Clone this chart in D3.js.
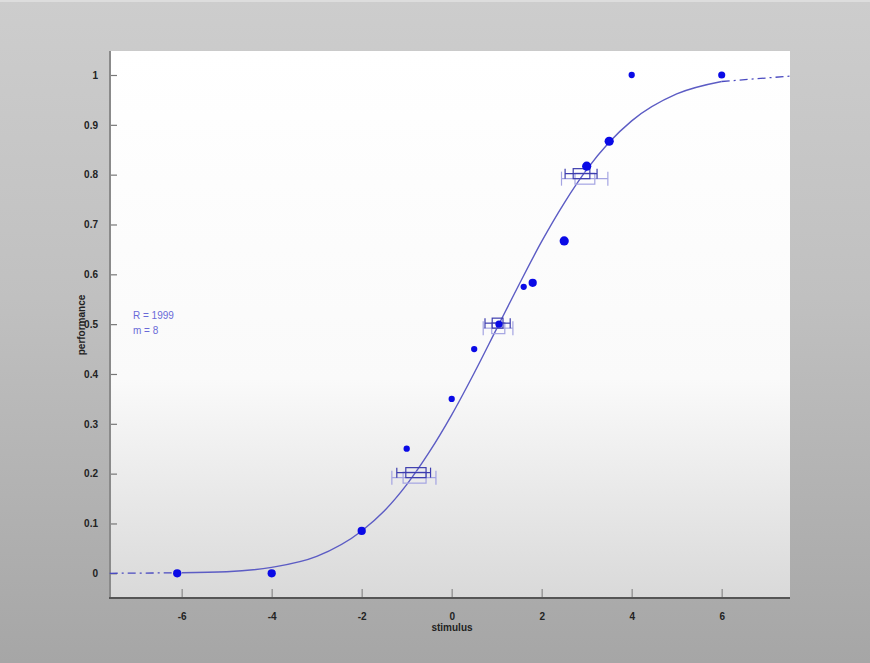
<!DOCTYPE html>
<html><head><meta charset="utf-8">
<script src="https://cdn.jsdelivr.net/npm/d3@7"></script>
<style>body{margin:0;padding:0;overflow:hidden}svg{display:block}</style>
</head><body>
<script>
// ---- data ----
const stimulus    = [-6.1, -4.0, -2.0, -1.0, 0.0, 0.5, 1.05, 1.6, 1.8, 2.5, 3.0, 3.5, 4.0, 6.0];
const performance = [0.0, 0.0, 0.085, 0.25, 0.35, 0.45, 0.50, 0.575, 0.583, 0.667, 0.817, 0.867, 1.0, 1.0];
const nTrials     = [12, 12, 12, 7, 7, 7, 9, 7, 12, 15, 15, 15, 7, 9];
// fitted curve
const fitX = [-6, -5, -4, -3, -2, -1.5, -1, -0.5, 0, 0.5, 1, 1.5, 2, 2.5, 3, 3.5, 4, 5, 6];
const fitY = [0.001, 0.003, 0.012, 0.034, 0.085, 0.125, 0.178, 0.243, 0.318, 0.402, 0.491, 0.580, 0.666, 0.743, 0.810, 0.865, 0.908, 0.962, 0.987];
const extLeftX = [-7.6, -6], extLeftY = [0.0, 0.001];
const extRightX = [6, 7.55], extRightY = [0.987, 0.998];
// threshold confidence intervals (dark / light)
const ciLevels   = [0.2, 0.5, 0.8];
const darkWhisk  = [[-1.22, -0.47], [0.74, 1.30], [2.52, 3.23]];
const darkBox    = [[-1.02, -0.57], [0.90, 1.14], [2.70, 3.07]];
const lightWhisk = [[-1.33, -0.35], [0.70, 1.36], [2.44, 3.47]];
const lightBox   = [[-1.08, -0.57], [0.89, 1.18], [2.74, 3.18]];
const xTicks = [-6, -4, -2, 0, 2, 4, 6];
const yTicks = [0, 0.1, 0.2, 0.3, 0.4, 0.5, 0.6, 0.7, 0.8, 0.9, 1];
const annotation = ["R = 1999", "m = 8"];

// ---- drawing ----
const W = 870, H = 663;
const L = 110, R = 790, T = 51, B = 598;
const svg = d3.select("body").append("svg").attr("width", W).attr("height", H);
const defs = svg.append("defs");
const bg = defs.append("linearGradient").attr("id","bg").attr("x1",0).attr("y1",0).attr("x2",0).attr("y2",1);
bg.append("stop").attr("offset","0%").attr("stop-color","#cdcdcd");
bg.append("stop").attr("offset","45%").attr("stop-color","#c0c0c0");
bg.append("stop").attr("offset","100%").attr("stop-color","#a6a6a6");
const pg = defs.append("linearGradient").attr("id","pg").attr("x1",0).attr("y1",0).attr("x2",0).attr("y2",1);
pg.append("stop").attr("offset","0%").attr("stop-color","#ffffff");
pg.append("stop").attr("offset","60%").attr("stop-color","#fafafa");
pg.append("stop").attr("offset","100%").attr("stop-color","#d9d9d9");

svg.append("rect").attr("width",W).attr("height",H).attr("fill","url(#bg)");
svg.append("rect").attr("width",W).attr("height",2).attr("fill","#dddddd");
svg.append("rect").attr("x",L).attr("y",T).attr("width",R-L).attr("height",B-T).attr("fill","url(#pg)");

const x = d3.scaleLinear().domain([-6,6]).range([181.7, 721.7]);
const y = d3.scaleLinear().domain([0,1]).range([573.3, 75]);
const font = "bold 10px 'Liberation Sans', Arial, sans-serif";

// axes
const gx = svg.append("g").attr("transform",`translate(0,${B})`)
  .call(d3.axisBottom(x).tickValues(xTicks).tickSize(-8).tickPadding(15).tickFormat(d => String(d)));
gx.select(".domain").remove();
gx.selectAll(".tick line").attr("stroke","#999").attr("stroke-width",1.5).attr("transform","translate(0,-1)");
gx.selectAll(".tick text").attr("fill","#222").style("font",font);
const gy = svg.append("g").attr("transform",`translate(${L},0)`)
  .call(d3.axisLeft(y).tickValues(yTicks).tickSize(-6).tickPadding(12).tickFormat(d => String(d)));
gy.select(".domain").remove();
gy.selectAll(".tick line").attr("stroke","#777").attr("stroke-width",1.2).attr("transform","translate(1,0)");
gy.selectAll(".tick text").attr("fill","#222").style("font",font);
svg.append("line").attr("x1",L).attr("x2",L).attr("y1",T).attr("y2",B).attr("stroke","#8a8a8a").attr("stroke-width",2);
svg.append("line").attr("x1",L-1).attr("x2",R).attr("y1",B).attr("y2",B).attr("stroke","#555").attr("stroke-width",2);

svg.append("text").attr("x",452).attr("y",631).attr("text-anchor","middle").attr("fill","#222")
  .style("font",font).text("stimulus");
svg.append("text").attr("transform","translate(85,325) rotate(-90)").attr("text-anchor","middle").attr("fill","#222")
  .style("font",font).text("performance");

svg.selectAll(".ann").data(annotation).enter().append("text")
  .attr("x",133).attr("y",(d,i)=>319+i*15).attr("fill","#6a6ad8")
  .style("font","10px 'Liberation Sans', Arial, sans-serif").text(d=>d);

// curve
const line = d3.line().x(d=>x(d[0])).y(d=>y(d[1])).curve(d3.curveMonotoneX);
svg.append("path").datum(d3.zip(fitX, fitY)).attr("d",line).attr("fill","none")
  .attr("stroke","#5c5cc4").attr("stroke-width",1.4);
[[extLeftX, extLeftY],[extRightX, extRightY]].forEach(([xs, ys]) => {
  svg.append("path").datum(d3.zip(xs, ys)).attr("d",d3.line().x(d=>x(d[0])).y(d=>y(d[1])))
    .attr("fill","none").attr("stroke","#4a4ac0").attr("stroke-width",1.3).attr("stroke-dasharray","8,4,2,4");
});

// CI box plots
function boxplot(whisk, box, level, dy, color, hBox, hCap) {
  const g = svg.append("g");
  const cy = y(level) + dy;
  g.append("line").attr("x1",x(whisk[0])).attr("x2",x(whisk[1])).attr("y1",cy).attr("y2",cy).attr("stroke",color).attr("stroke-width",1.2);
  whisk.forEach(w => g.append("line").attr("x1",x(w)).attr("x2",x(w)).attr("y1",cy-hCap/2).attr("y2",cy+hCap/2).attr("stroke",color).attr("stroke-width",1.2));
  g.append("rect").attr("x",x(box[0])).attr("y",cy-hBox/2).attr("width",x(box[1])-x(box[0])).attr("height",hBox)
    .attr("fill","none").attr("stroke",color).attr("stroke-width",1.2);
}
ciLevels.forEach((lv,i) => {
  boxplot(lightWhisk[i], lightBox[i], lv, 4, "#a4a4e2", 11, 14);
  boxplot(darkWhisk[i], darkBox[i], lv, -1, "#3c3cae", 10, 10);
});

// points
const r = d3.scaleSqrt().domain([0, 15]).range([0, 4.6]);
svg.selectAll(".pt").data(d3.range(stimulus.length)).enter().append("circle")
  .attr("cx",i=>x(stimulus[i])).attr("cy",i=>y(performance[i])).attr("r",i=>r(nTrials[i]))
  .attr("fill","#0a0ae6");
</script>
</body></html>
